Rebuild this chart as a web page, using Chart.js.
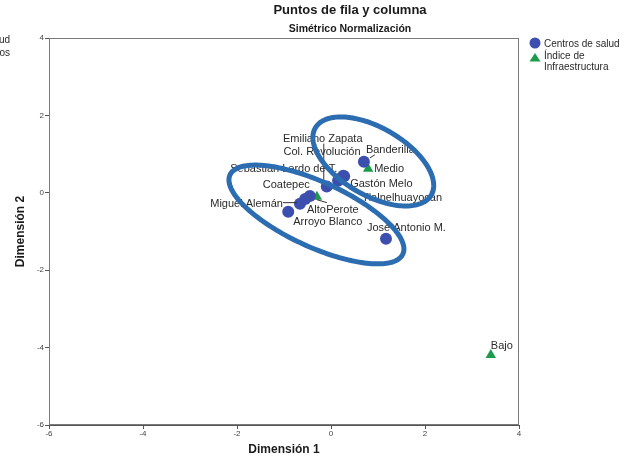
<!DOCTYPE html>
<html>
<head>
<meta charset="utf-8">
<script src="https://cdn.jsdelivr.net/npm/chart.js@4.4.0/dist/chart.umd.min.js"></script>
<style>
  html, body { margin: 0; padding: 0; background: #ffffff; }
  #wrap { width: 635px; height: 460px; }
</style>
</head>
<body>
<div id="wrap"><canvas id="c" width="635" height="460"></canvas></div>
<script>
// Row points: health centres
const centroNames = ['Emiliano Zapata', 'Col. Revolución', 'Sebastian Lerdo de T.', 'Banderilla',
  'Gastón Melo', 'Tlalnelhuayocan', 'Coatepec', 'Perote', 'Miguel Alemán', 'Arroyo Blanco', 'José Antonio M.'];
const centroDim1 = [-0.09, 0.15, 0.26, 0.70, 0.28, 0.19, -0.45, -0.55, -0.66, -0.91, 1.17];
const centroDim2 = [0.16, 0.31, 0.44, 0.80, 0.43, 0.36, -0.08, -0.16, -0.28, -0.49, -1.19];

// Column points: infrastructure index levels
const indiceNames = ['Alto', 'Medio', 'Bajo'];
const indiceDim1 = [-0.30, 0.79, 3.40];
const indiceDim2 = [-0.10, 0.62, -4.19];

// Axis ticks
const xTicks = [-6, -4, -2, 0, 2, 4];
const yTicks = [-6, -4, -2, 0, 2, 4];

// Grouping ellipses (centre, half major-axis vector, half minor-axis vector), in dimension units
const ellipseCentre = [[0.90, 0.81], [-0.31, -0.56]];
const ellipseMajor  = [[1.234, -0.866], [1.839, -1.023]];
const ellipseMinor  = [[0.360, 0.757], [0.288, 0.763]];

// Label placement (pixel offsets from the marker) and leader lines
const centroLabelStyle = [
  { dx: -4,  dy: -48, align: 'center', leader: [-3, -43, -3, -6] },
  { dx: -16, dy: -29, align: 'center' },
  { dx: -6,  dy: -7,  align: 'right' },
  { dx: 2,   dy: -12, align: 'left', leader: [6, -4, 11, -7] },
  { dx: 6,   dy: 8,   align: 'left' },
  { dx: 22,  dy: 19,  align: 'left', leader: [12, 11, 19, 12] },
  { dx: 0,   dy: -11, align: 'right' },
  { dx: 21,  dy: 11,  align: 'left' },
  { dx: -17, dy: 0,   align: 'right', leader: [-17, -1, -3, -1] },
  { dx: 5,   dy: 10,  align: 'left' },
  { dx: -19, dy: -11, align: 'left' }
];
const indiceLabelStyle = [
  { dx: -10, dy: 13, align: 'left', leader: [0, 3, 10, 6] },
  { dx: 6,   dy: 0,  align: 'left' },
  { dx: 0,   dy: -9, align: 'left' }
];

const BLUE = '#3d4fae';
const GREEN = '#1d9a4b';
const RING = '#2c6db2';
const FONT = '"Liberation Sans", Arial, sans-serif';

const pointLabels = {
  id: 'pointLabels',
  afterDatasetsDraw(chart) {
    const ctx = chart.ctx;
    const groups = [[centroNames, centroLabelStyle], [indiceNames, indiceLabelStyle]];
    ctx.save();
    ctx.font = '11px ' + FONT;
    ctx.textBaseline = 'middle';
    groups.forEach(([names, styles], di) => {
      const meta = chart.getDatasetMeta(di);
      meta.data.forEach((el, j) => {
        const s = styles[j];
        ctx.fillStyle = '#2a2a2a';
        ctx.textAlign = s.align;
        ctx.fillText(names[j], el.x + s.dx, el.y + s.dy);
        if (s.leader) {
          ctx.strokeStyle = '#333';
          ctx.lineWidth = 1;
          ctx.beginPath();
          ctx.moveTo(el.x + s.leader[0], el.y + s.leader[1]);
          ctx.lineTo(el.x + s.leader[2], el.y + s.leader[3]);
          ctx.stroke();
        }
      });
    });
    // grouping ellipses drawn over points and labels
    const xs = chart.scales.x, ys = chart.scales.y;
    ctx.strokeStyle = RING;
    ctx.lineWidth = 5;
    ellipseCentre.forEach((c, i) => {
      const u = ellipseMajor[i], v = ellipseMinor[i];
      ctx.beginPath();
      for (let k = 0; k <= 180; k++) {
        const t = k / 180 * Math.PI * 2;
        const dx = c[0] + u[0] * Math.cos(t) + v[0] * Math.sin(t);
        const dy = c[1] + u[1] * Math.cos(t) + v[1] * Math.sin(t);
        const px = xs.getPixelForValue(dx), py = ys.getPixelForValue(dy);
        if (k === 0) ctx.moveTo(px, py); else ctx.lineTo(px, py);
      }
      ctx.closePath();
      ctx.stroke();
    });
    ctx.restore();
  },
  afterDraw(chart) {
    const ctx = chart.ctx;
    const a = chart.chartArea;
    ctx.save();
    // frame around the plot
    ctx.strokeStyle = '#7a7a7a';
    ctx.lineWidth = 1;
    ctx.strokeRect(a.left + 0.5, a.top + 0.5, a.right - a.left - 1, a.bottom - a.top - 1);
    // titles
    ctx.fillStyle = '#1a1a1a';
    ctx.textAlign = 'center';
    ctx.textBaseline = 'middle';
    ctx.font = 'bold 13px ' + FONT;
    ctx.fillText('Puntos de fila y columna', 350, 10);
    ctx.font = 'bold 10.5px ' + FONT;
    ctx.fillText('Simétrico Normalización', 350, 29);
    // legend
    ctx.fillStyle = BLUE;
    ctx.beginPath();
    ctx.arc(535, 43, 5.5, 0, Math.PI * 2);
    ctx.fill();
    ctx.fillStyle = GREEN;
    ctx.beginPath();
    ctx.moveTo(535, 53);
    ctx.lineTo(540.5, 61.5);
    ctx.lineTo(529.5, 61.5);
    ctx.closePath();
    ctx.fill();
    ctx.fillStyle = '#2a2a2a';
    ctx.textAlign = 'left';
    ctx.font = '10px ' + FONT;
    ctx.fillText('Centros de salud', 544, 44);
    ctx.fillText('Índice de', 544, 56);
    ctx.fillText('Infraestructura', 544, 67);
    // clipped legend text at the left edge
    ctx.textAlign = 'right';
    ctx.fillText('salud', 10, 40);
    ctx.fillText('Centros', 10, 53);
    ctx.restore();
  }
};

new Chart(document.getElementById('c'), {
  type: 'scatter',
  data: {
    datasets: [
      {
        label: 'Centros de salud',
        data: centroDim1.map((x, i) => ({ x: x, y: centroDim2[i] })),
        pointStyle: 'circle',
        pointRadius: 6,
        backgroundColor: BLUE,
        borderColor: BLUE,
        borderWidth: 0
      },
      {
        label: 'Índice de Infraestructura',
        data: indiceDim1.map((x, i) => ({ x: x, y: indiceDim2[i] })),
        pointStyle: 'triangle',
        pointRadius: 6,
        backgroundColor: GREEN,
        borderColor: GREEN,
        borderWidth: 0
      }
    ]
  },
  options: {
    responsive: false,
    animation: false,
    layout: { padding: { top: 38, right: 116, bottom: 0, left: 0 } },
    plugins: { legend: { display: false }, tooltip: { enabled: false }, title: { display: false } },
    scales: {
      x: {
        type: 'linear', min: -6, max: 4,
        afterFit(s) { s.height = 35; },
        afterBuildTicks(s) { s.ticks = xTicks.map(v => ({ value: v })); },
        ticks: { font: { size: 8, family: FONT }, color: '#444', padding: 0, maxRotation: 0 },
        grid: { drawOnChartArea: false, drawTicks: true, tickLength: 4, color: '#555' },
        border: { color: '#555', width: 1 },
        title: { display: true, text: 'Dimensión 1', color: '#1a1a1a',
                 font: { size: 12, weight: 'bold', family: FONT }, padding: { top: 0, bottom: 3 } }
      },
      y: {
        type: 'linear', min: -6, max: 4,
        afterFit(s) { s.width = 49; },
        afterBuildTicks(s) { s.ticks = yTicks.map(v => ({ value: v })); },
        ticks: { font: { size: 8, family: FONT }, color: '#444', padding: 1 },
        grid: { drawOnChartArea: false, drawTicks: true, tickLength: 4, color: '#555' },
        border: { color: '#555', width: 1 },
        title: { display: true, text: 'Dimensión 2', color: '#1a1a1a',
                 font: { size: 12, weight: 'bold', family: FONT }, padding: { top: 13, bottom: 0 } }
      }
    }
  },
  plugins: [pointLabels]
});
</script>
</body>
</html>
